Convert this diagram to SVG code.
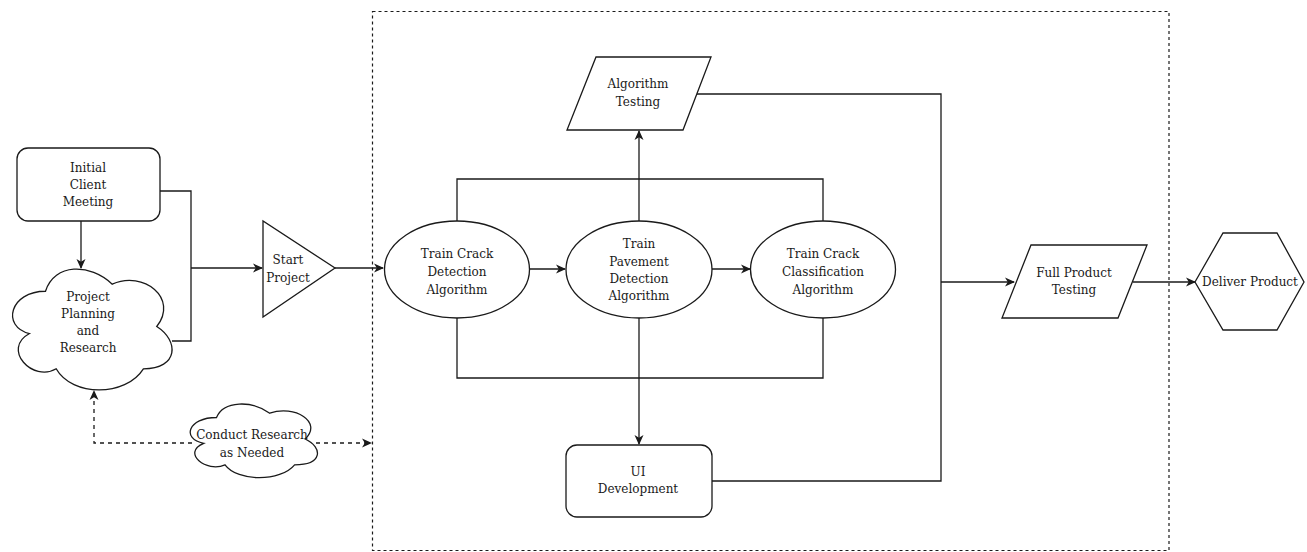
<svg xmlns="http://www.w3.org/2000/svg" width="1307" height="552" viewBox="0 0 1307 552">
<defs>
<style>
.shape{fill:#fff;stroke:#1a1a1a;stroke-width:1.3}
.line{fill:none;stroke:#1a1a1a;stroke-width:1.3}
.dash{fill:none;stroke:#1a1a1a;stroke-width:1.3;stroke-dasharray:4 4}
.frame{fill:none;stroke:#1a1a1a;stroke-width:1.2;stroke-dasharray:3 3}
text{font-family:"DejaVu Serif","Liberation Serif",serif;font-size:12px;fill:#1a1a1a;text-anchor:middle}
</style>
<marker id="arr" viewBox="0 0 10 10" refX="9" refY="5" markerWidth="10" markerHeight="10" markerUnits="userSpaceOnUse" orient="auto">
<path d="M0,0.5 L10,5 L0,9.5 L2.8,5 Z" fill="#1a1a1a"/>
</marker>
</defs>
<rect class="frame" x="372.5" y="11.5" width="796.5" height="539"/>
<g id="connectors">
<polyline class="line" points="160,191 191,191 191,341 172,341"/>
<line class="line" x1="191" y1="268" x2="262" y2="268" marker-end="url(#arr)"/>
<line class="line" x1="81" y1="221" x2="81" y2="268" marker-end="url(#arr)"/>
<line class="line" x1="335" y1="268" x2="383" y2="268" marker-end="url(#arr)"/>
<line class="line" x1="530" y1="269" x2="565" y2="269" marker-end="url(#arr)"/>
<line class="line" x1="712" y1="269" x2="750" y2="269" marker-end="url(#arr)"/>
<polyline class="line" points="457,221 457,179 823,179 823,221"/>
<polyline class="line" points="457,318 457,378 823,378 823,318"/>
<line class="line" x1="639" y1="221" x2="639" y2="131" marker-end="url(#arr)"/>
<line class="line" x1="639" y1="318" x2="639" y2="444" marker-end="url(#arr)"/>
<polyline class="line" points="697,94 941,94 941,481 712,481"/>
<line class="line" x1="941" y1="282" x2="1014" y2="282" marker-end="url(#arr)"/>
<line class="line" x1="1133" y1="282" x2="1195" y2="282" marker-end="url(#arr)"/>
<polyline class="dash" points="192,443 94,443 94,391" marker-end="url(#arr)"/>
<line class="dash" x1="316" y1="443" x2="371" y2="443" marker-end="url(#arr)"/>
</g>
<g id="initial-client-meeting">
<rect class="shape" x="17" y="148" width="143" height="73" rx="11"/>
<text x="88" y="172">Initial</text>
<text x="88" y="189">Client</text>
<text x="88" y="206">Meeting</text>
</g>
<g id="project-planning">
<path class="shape" vector-effect="non-scaling-stroke" transform="translate(1,256) scale(1.78,1.41)" d="M25,25 C5,25 0,50 16,55 C0,66 18,90 31,80 C40,100 70,100 80,80 C100,80 100,60 87.5,50 C100,30 80,10 62.5,20 C50,5 30,5 25,25 Z"/>
<text x="88" y="301">Project</text>
<text x="88" y="318">Planning</text>
<text x="88" y="335">and</text>
<text x="88" y="352">Research</text>
</g>
<g id="start-project">
<polygon class="shape" points="263,221 263,317 335,268"/>
<text x="288" y="264">Start</text>
<text x="288" y="282">Project</text>
</g>
<g id="conduct-research">
<path class="shape" vector-effect="non-scaling-stroke" transform="translate(181,396) scale(1.42,0.86)" d="M25,25 C5,25 0,50 16,55 C0,66 18,90 31,80 C40,100 70,100 80,80 C100,80 100,60 87.5,50 C100,30 80,10 62.5,20 C50,5 30,5 25,25 Z"/>
<text x="252" y="439">Conduct Research</text>
<text x="252" y="457">as Needed</text>
</g>
<g id="algorithm-testing">
<polygon class="shape" points="596,57 711,57 683,130 567,130"/>
<text x="638" y="88">Algorithm</text>
<text x="638" y="106">Testing</text>
</g>
<g id="train-crack-detection">
<ellipse class="shape" cx="457" cy="269.5" rx="72.5" ry="48.5"/>
<text x="457" y="258">Train Crack</text>
<text x="457" y="276">Detection</text>
<text x="457" y="294">Algorithm</text>
</g>
<g id="train-pavement-detection">
<ellipse class="shape" cx="639" cy="269.5" rx="73" ry="48.5"/>
<text x="639" y="248">Train</text>
<text x="639" y="266">Pavement</text>
<text x="639" y="283">Detection</text>
<text x="639" y="300">Algorithm</text>
</g>
<g id="train-crack-classification">
<ellipse class="shape" cx="823" cy="269.5" rx="72.5" ry="48.5"/>
<text x="823" y="258">Train Crack</text>
<text x="823" y="276">Classification</text>
<text x="823" y="294">Algorithm</text>
</g>
<g id="ui-development">
<rect class="shape" x="566" y="445" width="146" height="72" rx="11"/>
<text x="638" y="476">UI</text>
<text x="638" y="493">Development</text>
</g>
<g id="full-product-testing">
<polygon class="shape" points="1031,245 1147,245 1118,318 1002,318"/>
<text x="1074" y="277">Full Product</text>
<text x="1074" y="294">Testing</text>
</g>
<g id="deliver-product">
<polygon class="shape" points="1195,282 1223,233 1277,233 1304,282 1277,330 1223,330"/>
<text x="1250" y="286">Deliver Product</text>
</g>
</svg>
